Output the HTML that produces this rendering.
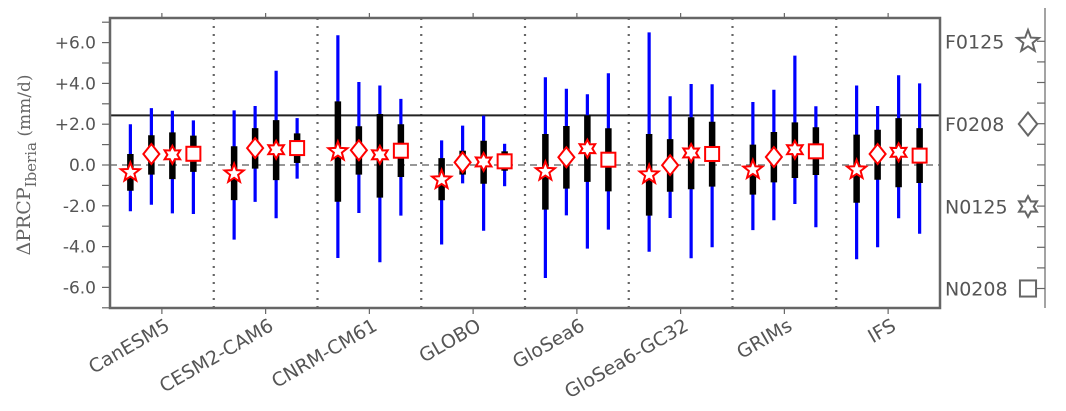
<!DOCTYPE html>
<html><head><meta charset="utf-8"><style>
html,body{margin:0;padding:0;background:#fff;}
svg{display:block;font-family:"DejaVu Sans","Liberation Sans",sans-serif;}
</style></head><body>
<svg id="chart" width="1066" height="411" viewBox="0 0 1066 411">
<text transform="translate(30,165) rotate(-90)" text-anchor="middle" font-family="'DejaVu Serif','Liberation Serif',serif" font-size="19" fill="#666">ΔPRCP<tspan font-size="15" dy="6">Iberia</tspan><tspan dy="-6" font-size="17"> (mm/d)</tspan></text>
<g id="marks"></g>
</svg>
<script>
const models = ["CanESM5","CESM2-CAM6","CNRM-CM61","GLOBO","GloSea6","GloSea6-GC32","GRIMs","IFS"];
const experiments = ["F0125","F0208","N0125","N0208"];
const centerVals = [
 [-0.36,0.54,0.50,0.55],[-0.42,0.83,0.75,0.83],[0.67,0.72,0.50,0.70],[-0.72,0.13,0.15,0.18],
 [-0.31,0.38,0.80,0.26],[-0.47,-0.01,0.59,0.54],[-0.23,0.39,0.75,0.67],[-0.23,0.54,0.62,0.46]];
const boxHigh = [
 [0.54,1.46,1.60,1.44],[0.92,1.81,2.20,1.55],[3.12,1.90,2.50,2.00],[0.34,0.70,1.19,0.67],
 [1.52,1.91,2.44,1.80],[1.52,1.27,2.34,2.12],[1.00,1.62,2.09,1.85],[1.49,1.73,2.30,1.81]];
const boxLow = [
 [-1.26,-0.47,-0.69,-0.34],[-1.72,-0.18,-0.74,0.10],[-1.80,-0.47,-1.60,-0.59],[-1.73,-0.47,-0.92,-0.28],
 [-2.19,-1.16,-0.83,-1.29],[-2.48,-1.31,-1.19,-1.06],[-1.45,-0.85,-0.64,-0.49],[-1.85,-0.72,-1.09,-0.88]];
const whiskHigh = [
 [2.00,2.79,2.66,2.19],[2.68,2.89,4.62,2.30],[6.36,4.07,3.90,3.24],[1.21,1.93,2.42,1.04],
 [4.30,3.74,3.47,4.50],[6.50,3.37,3.97,3.96],[3.09,3.69,5.36,2.88],[3.90,2.89,4.40,4.00]];
const whiskLow = [
 [-2.27,-1.95,-2.37,-2.40],[-3.66,-1.81,-2.61,-0.67],[-4.56,-2.35,-4.77,-2.48],[-3.90,-0.90,-3.22,-1.04],
 [-5.54,-2.47,-4.10,-3.17],[-4.25,-2.60,-4.57,-4.03],[-3.19,-2.71,-1.91,-3.05],[-4.62,-4.03,-2.61,-3.37]];
const refLine = 2.43;
const yTickLabels = ["+6.0","+4.0","+2.0","0.0","-2.0","-4.0","-6.0"];
const yTickVals = [6,4,2,0,-2,-4,-6];

const L=110,T=18,R=940,B=308;
const y = v => 165 - 20.4*v;
const gw = (R-L)/models.length;
const xc = i => L + gw*(i+0.5);
const xm = (i,j) => xc(i) + (j-1.5)*21;
const NS="http://www.w3.org/2000/svg";
const svg=document.getElementById('chart');
const g=document.getElementById('marks');
function el(tag,attrs,parent){const e=document.createElementNS(NS,tag);for(const k in attrs)e.setAttribute(k,attrs[k]);(parent||g).appendChild(e);return e;}

for(let i=1;i<models.length;i++){
  const s=el('line',{x1:L+gw*i,x2:L+gw*i,y1:T,y2:B,stroke:'#666','stroke-width':2.2,'stroke-dasharray':'2,6'});
  
  
}
const z=el('line',{x1:L,x2:R,y1:y(0),y2:y(0),stroke:'#777','stroke-width':1.6,'stroke-dasharray':'7,5'});


const rl=el('line',{x1:L,x2:R,y1:y(refLine),y2:y(refLine),stroke:'#222','stroke-width':2});



function starPath(cx,cy,n,ro,ri){let d='';for(let k=0;k<2*n;k++){const r=k%2?ri:ro;const a=-Math.PI/2+k*Math.PI/n;d+=(k?'L':'M')+(cx+r*Math.cos(a)).toFixed(2)+','+(cy+r*Math.sin(a)).toFixed(2);}return d+'Z';}
function marker(type,cx,cy,color,parent,sw,s){
  s=s||1;
  let e;
  if(type===0) e=el('path',{d:starPath(cx,cy,5,10*s,4.2*s),fill:'#fff',stroke:color,'stroke-width':sw},parent);
  else if(type===1) e=el('path',{d:`M${cx},${cy-10*s}L${cx+8*s},${cy}L${cx},${cy+10*s}L${cx-8*s},${cy}Z`,fill:'#fff',stroke:color,'stroke-width':sw},parent);
  else if(type===2) e=el('path',{d:starPath(cx,cy,6,9*s,5*s),fill:'#fff',stroke:color,'stroke-width':sw},parent);
  else e=el('rect',{x:cx-7*s,y:cy-7*s,width:14*s,height:14*s,fill:'#fff',stroke:color,'stroke-width':sw},parent);
  return e;
}
for(let i=0;i<models.length;i++){
  for(let j=0;j<4;j++){
    const x=xm(i,j);
    const w=el('line',{x1:x,x2:x,y1:y(whiskHigh[i][j]),y2:y(whiskLow[i][j]),stroke:'#0000ff','stroke-width':3.2});
    
    
    const b=el('line',{x1:x,x2:x,y1:y(boxHigh[i][j]),y2:y(boxLow[i][j]),stroke:'#000','stroke-width':6.5});
    
    
    const m=marker(j,x,y(centerVals[i][j]),'#ff0000',g,2);
    
    
  }
  el('line',{x1:xc(i),x2:xc(i),y1:B,y2:B+6,stroke:'#666','stroke-width':1.2});
  el('line',{x1:xc(i),x2:xc(i),y1:T,y2:T-5,stroke:'#666','stroke-width':1.2});
  const t=el('text',{transform:`translate(${xc(i)+2},${B+9}) rotate(-30)`,'text-anchor':'end','font-size':19,fill:'#555',dy:'0.75em'});
  t.textContent=models[i];
  
  
}
for(let v=-7;v<=7;v++){
  if(y(v)<T-1||y(v)>B+1) continue;
  el('line',{x1:L-8,x2:L,y1:y(v),y2:y(v),stroke:'#666','stroke-width':1.2});
}
for(let k=0;k<yTickVals.length;k++){
  const t=el('text',{x:L-14,y:y(yTickVals[k])+6,'text-anchor':'end','font-size':17,fill:'#555'});
  t.textContent=yTickLabels[k];
  
  
}
const f=el('rect',{x:L,y:T,width:R-L,height:B-T,fill:'none',stroke:'#666','stroke-width':2.5});


el('line',{x1:1045,x2:1045,y1:T-10,y2:B,stroke:'#666','stroke-width':1.2});
for(let k=0;k<13;k++){const yy=41.3+k*20.6;el('line',{x1:1037,x2:1045,y1:yy,y2:yy,stroke:'#666','stroke-width':1.2});}
const legY=[41.5,124,206.5,288.5];
for(let j=0;j<4;j++){
  const lg=el('g',{});
  
  
  const t=el('text',{x:945,y:legY[j]+7,'font-size':19,fill:'#555'},lg);
  t.textContent=experiments[j];
  marker(j,1028,legY[j],'#666',lg,2,1.15);
}
</script>
</body></html>
